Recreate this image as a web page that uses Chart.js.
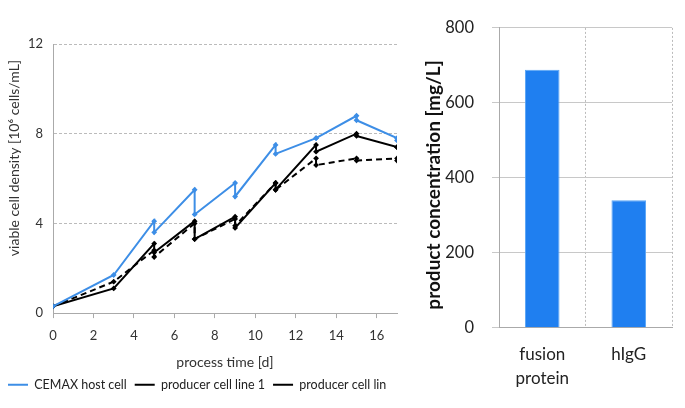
<!DOCTYPE html>
<html>
<head>
<meta charset="utf-8">
<script src="https://cdn.jsdelivr.net/npm/chart.js@4"></script>
<style>
  body { margin: 0; background: #fff; }
  #wrapLeft { position: absolute; left: 0; top: 0; width: 410px; height: 408px; }
  #wrapRight { position: absolute; left: 420px; top: 0; width: 265px; height: 408px; }
</style>
</head>
<body>
<div id="wrapLeft"><canvas id="growthChart"></canvas></div>
<div id="wrapRight"><canvas id="titerChart"></canvas></div>
<script>
// process days (feed days appear twice: before and after feeding)
const days = [0, 3, 5, 5, 7, 7, 9, 9, 11, 11, 13, 13, 15, 15, 17, 17];
const hostCell = [0.3, 1.7, 4.1, 3.6, 5.5, 4.4, 5.8, 5.2, 7.5, 7.1, 7.8, 7.8, 8.8, 8.6, 7.8, 7.7];
const cellLine1 = [0.3, 1.1, 3.1, 2.7, 4.1, 3.3, 4.3, 3.8, 5.8, 5.5, 7.5, 7.2, 8.0, 7.9, 7.4, 7.4];
const cellLine2 = [0.3, 1.4, 2.8, 2.5, 4.0, 3.3, 4.2, 3.9, 5.8, 5.5, 6.9, 6.6, 6.9, 6.8, 6.9, 6.8];
const seriesNames = ['CEMAX host cell', 'producer cell line 1', 'producer cell lin'];
const yTicksLeft = [0, 4, 8, 12];

const products = [['fusion', 'protein'], 'hIgG'];
const concentration = [688, 340];

const font = 'Lato, "Liberation Sans", sans-serif';

// rotated y-axis title drawn at a fixed spot (Excel placed them off-centre)
function sideTitle(text, x, y, size, weight, color) {
    return {
        id: 'sideTitle',
        afterDraw(chart) {
            const ctx = chart.ctx;
            ctx.save();
            ctx.translate(x, y);
            ctx.rotate(-Math.PI / 2);
            ctx.font = `${weight} ${size}px ${font}`;
            ctx.fillStyle = color;
            ctx.textAlign = 'center';
            ctx.textBaseline = 'middle';
            ctx.fillText(text, 0, 0);
            ctx.restore();
        }
    };
}

function toPoints(vals) {
    return vals.map((v, i) => ({ x: days[i], y: v }));
}

function lineSet(label, vals, color, dash) {
    return {
        label: label,
        data: toPoints(vals),
        borderColor: color,
        backgroundColor: color,
        borderWidth: 2,
        borderDash: dash,
        pointStyle: 'rectRot',
        pointRadius: 1.5,
        pointHoverRadius: 2,
        tension: 0
    };
}

new Chart(document.getElementById('growthChart').getContext('2d'), {
    type: 'line',
    data: {
        datasets: [
            lineSet(seriesNames[0], hostCell, '#3d8ee6', []),
            lineSet(seriesNames[1], cellLine1, '#000000', []),
            lineSet(seriesNames[2], cellLine2, '#000000', [6, 4])
        ]
    },
    options: {
        responsive: true,
        maintainAspectRatio: false,
        animation: false,
        layout: { padding: { top: 44, right: 13, left: 0, bottom: 7 } },
        plugins: {
            legend: {
                display: true,
                position: 'bottom',
                align: 'start',
                labels: {
                    font: { family: font, size: 12.5 },
                    color: '#222',
                    usePointStyle: true,
                    pointStyle: 'line',
                    pointStyleWidth: 20,
                    boxHeight: 8,
                    padding: 8
                }
            },
            tooltip: { enabled: false }
        },
        scales: {
            x: {
                type: 'linear',
                min: 0,
                max: 17,
                grid: { display: true, drawOnChartArea: false, tickLength: 5, color: '#aaa' },
                border: { color: '#aaa' },
                ticks: {
                    stepSize: 2,
                    includeBounds: false,
                    font: { family: font, size: 13 },
                    color: '#333',
                    maxRotation: 0,
                    padding: 10
                },
                title: {
                    display: true,
                    text: 'process time [d]',
                    font: { family: font, size: 14 },
                    color: '#333',
                    padding: { top: 0, bottom: 0 }
                }
            },
            y: {
                min: 0,
                max: 12,
                afterFit: s => { s.width = 53; },
                afterBuildTicks: s => { s.ticks = yTicksLeft.map(v => ({ value: v })); },
                grid: { color: '#bbb', drawTicks: false },
                border: { color: '#aaa', dash: [3, 2] },
                ticks: {
                    font: { family: font, size: 13 },
                    color: '#333',
                    padding: 10
                }
            }
        }
    },
    plugins: [sideTitle('viable cell density [10\u2076 cells/mL]', 14, 158, 14, 'normal', '#333')]
});

new Chart(document.getElementById('titerChart').getContext('2d'), {
    type: 'bar',
    data: {
        labels: products,
        datasets: [{
            label: 'product concentration',
            data: concentration,
            backgroundColor: '#1f7ff0',
            borderColor: '#5aa5f5',
            borderWidth: 1,
            barPercentage: 0.4,
            categoryPercentage: 1.0
        }]
    },
    options: {
        responsive: true,
        maintainAspectRatio: false,
        animation: false,
        layout: { padding: { top: 26, right: 13, left: 0, bottom: 3 } },
        plugins: {
            legend: { display: false },
            tooltip: { enabled: false }
        },
        scales: {
            x: {
                grid: { offset: true, color: '#bbb', drawTicks: false },
                border: { color: '#aaa', dash: [2, 2] },
                ticks: {
                    font: { family: font, size: 17, lineHeight: 1.45 },
                    color: '#222',
                    padding: 14
                }
            },
            y: {
                min: 0,
                max: 800,
                afterFit: s => { s.width = 79; },
                grid: { color: '#c8c8c8', tickLength: 7 },
                border: { color: '#aaa' },
                ticks: {
                    stepSize: 200,
                    font: { family: font, size: 16.5 },
                    color: '#222',
                    padding: 18
                }
            }
        }
    },
    plugins: [sideTitle('product concentration [mg/L]', 14, 185, 19, 'bold', '#111')]
});
</script>
</body>
</html>
